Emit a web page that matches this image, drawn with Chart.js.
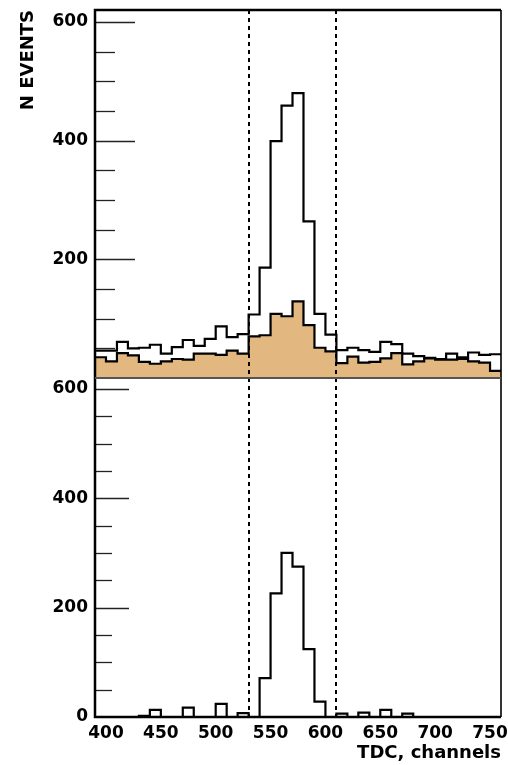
<!DOCTYPE html>
<html>
<head>
<meta charset="utf-8">
<script src="https://cdn.jsdelivr.net/npm/chart.js@4"></script>
<style>
    html, body { margin: 0; padding: 0; background: #fff; }
</style>
</head>
<body>
<canvas id="chart" width="508" height="765"></canvas>
<script>
// left edges of the 10-channel TDC bins, last bin closes at binEnd
const binStarts = [390, 400, 410, 420, 430, 440, 450, 460, 470, 480, 490, 500, 510, 520, 530, 540, 550, 560, 570,
    580, 590, 600, 610, 620, 630, 640, 650, 660, 670, 680, 690, 700, 710, 720, 730, 740, 750]
const binEnd = 760

// upper panel: all events (open histogram) and background (filled)
const allEvents = [46, 46, 61, 50, 51, 56, 41, 52, 64, 54, 66, 87, 69, 74, 107, 186, 399, 459, 480,
    264, 108, 73, 47, 51, 47, 44, 61, 57, 41, 37, 34, 32, 41, 35, 43, 39, 40]
const bgEvents = [35, 28, 42, 38, 27, 24, 28, 32, 31, 41, 41, 39, 46, 41, 70, 72, 108, 104, 129,
    89, 51, 45, 25, 36, 26, 27, 33, 42, 23, 28, 33, 31, 31, 32, 28, 26, 12]

// lower panel: selected events
const selEvents = [0, 0, 0, 0, 2, 13, 0, 0, 17, 0, 0, 24, 0, 7, 0, 71, 226, 300, 275,
    124, 28, 0, 6, 0, 8, 0, 13, 0, 6, 0, 0, 0, 0, 0, 0, 0, 0]

const cuts = [530, 610]
const xTicks = [400, 450, 500, 550, 600, 650, 700, 750]
const topTicks = [200, 400, 600]
const bottomTicks = [0, 200, 400, 600]

const tan = '#E2B880'
const labelFont = { family: 'DejaVu Sans', weight: 'bold', size: 17 }
const titleFont = { family: 'DejaVu Sans', weight: 'bold', size: 18 }


function histPoints(values) {
    const pts = binStarts.map((x, i) => ({ x, y: values[i] }))
    pts.push({ x: binEnd, y: values[values.length - 1] })
    return pts
}

function histDataset(values, axis, fillColor) {
    return {
        data: histPoints(values),
        yAxisID: axis,
        stepped: true,
        borderColor: '#000',
        borderWidth: 2.2,
        borderJoinStyle: 'miter',
        pointRadius: 0,
        backgroundColor: fillColor || 'transparent',
        fill: fillColor ? 'origin' : false
    }
}


const framePlugin = {
    id: 'frame',
    afterDatasetsDraw(chart) {
        const { ctx, chartArea: a, scales } = chart
        ctx.save()

        // cut lines
        ctx.strokeStyle = '#000'
        ctx.lineWidth = 2
        ctx.setLineDash([4, 4])
        cuts.forEach(c => {
            const px = Math.round(scales.x.getPixelForValue(c))
            ctx.beginPath()
            ctx.moveTo(px, a.top)
            ctx.lineTo(px, a.bottom)
            ctx.stroke()
        })
        ctx.setLineDash([])

        // inward ticks
        const panels = [[scales.yTop, 40], [scales.yBot, 34]]
        ctx.strokeStyle = '#222'
        ctx.lineWidth = 1.3
        panels.forEach(([s, len]) => {
            for (let v = 50; v <= 600; v += 50) {
                const py = Math.round(s.getPixelForValue(v)) + 0.5
                const l = v % 200 === 0 ? len : len / 2
                ctx.beginPath()
                ctx.moveTo(a.left, py)
                ctx.lineTo(a.left + l, py)
                ctx.stroke()
            }
        })

        // frame
        ctx.strokeStyle = '#000'
        ctx.lineWidth = 2.5
        ctx.beginPath()
        ctx.moveTo(a.right, a.top)
        ctx.lineTo(a.left, a.top)
        ctx.lineTo(a.left, a.bottom)
        ctx.lineTo(a.right, a.bottom)
        ctx.stroke()
        ctx.lineWidth = 1.6
        ctx.beginPath()
        ctx.moveTo(a.right, a.top)
        ctx.lineTo(a.right, a.bottom)
        ctx.stroke()

        // panel separator
        ctx.strokeStyle = '#555'
        ctx.lineWidth = 2
        ctx.beginPath()
        ctx.moveTo(a.left, scales.yTop.bottom)
        ctx.lineTo(a.right, scales.yTop.bottom)
        ctx.stroke()

        ctx.restore()
    }
}


const yCommon = {
    type: 'linear',
    position: 'left',
    stack: 'panels',
    min: 0,
    max: 620,
    grid: { display: false, drawTicks: false },
    border: { display: false },
    ticks: { font: labelFont, color: '#000', padding: 7 },
    afterFit: s => {
        s.width = 95
        s.paddingTop = 0
        s.paddingBottom = 0
    }
}

new Chart('chart', {
    type: 'line',
    data: {
        datasets: [
            histDataset(allEvents, 'yTop'),
            histDataset(bgEvents, 'yTop', tan),
            histDataset(selEvents, 'yBot')
        ]
    },
    options: {
        responsive: false,
        animation: false,
        layout: { padding: { top: 10, right: 7, left: 0, bottom: 0 } },
        plugins: {
            legend: { display: false },
            tooltip: { enabled: false }
        },
        scales: {
            x: {
                type: 'linear',
                min: 390,
                max: 760,
                grid: { display: false, drawTicks: false },
                border: { display: false },
                afterBuildTicks: s => { s.ticks = xTicks.map(v => ({ value: v })) },
                ticks: { font: labelFont, color: '#000', padding: 6, maxRotation: 0, autoSkip: false },
                title: {
                    display: true,
                    text: 'TDC, channels',
                    align: 'end',
                    color: '#000',
                    font: titleFont,
                    padding: { top: 0, bottom: 1 }
                },
                afterFit: s => {
                    s.height = 48
                    s.paddingLeft = 0
                    s.paddingRight = 0
                }
            },
            yTop: {
                ...yCommon,
                weight: 2,
                stackWeight: 368,
                afterBuildTicks: s => { s.ticks = topTicks.map(v => ({ value: v })) },
                title: {
                    display: true,
                    text: 'N EVENTS',
                    align: 'end',
                    color: '#000',
                    font: titleFont,
                    padding: { top: 18, bottom: 0 }
                }
            },
            yBot: {
                ...yCommon,
                weight: 1,
                stackWeight: 339,
                afterBuildTicks: s => { s.ticks = bottomTicks.map(v => ({ value: v })) }
            }
        }
    },
    plugins: [framePlugin]
})
</script>
</body>
</html>
